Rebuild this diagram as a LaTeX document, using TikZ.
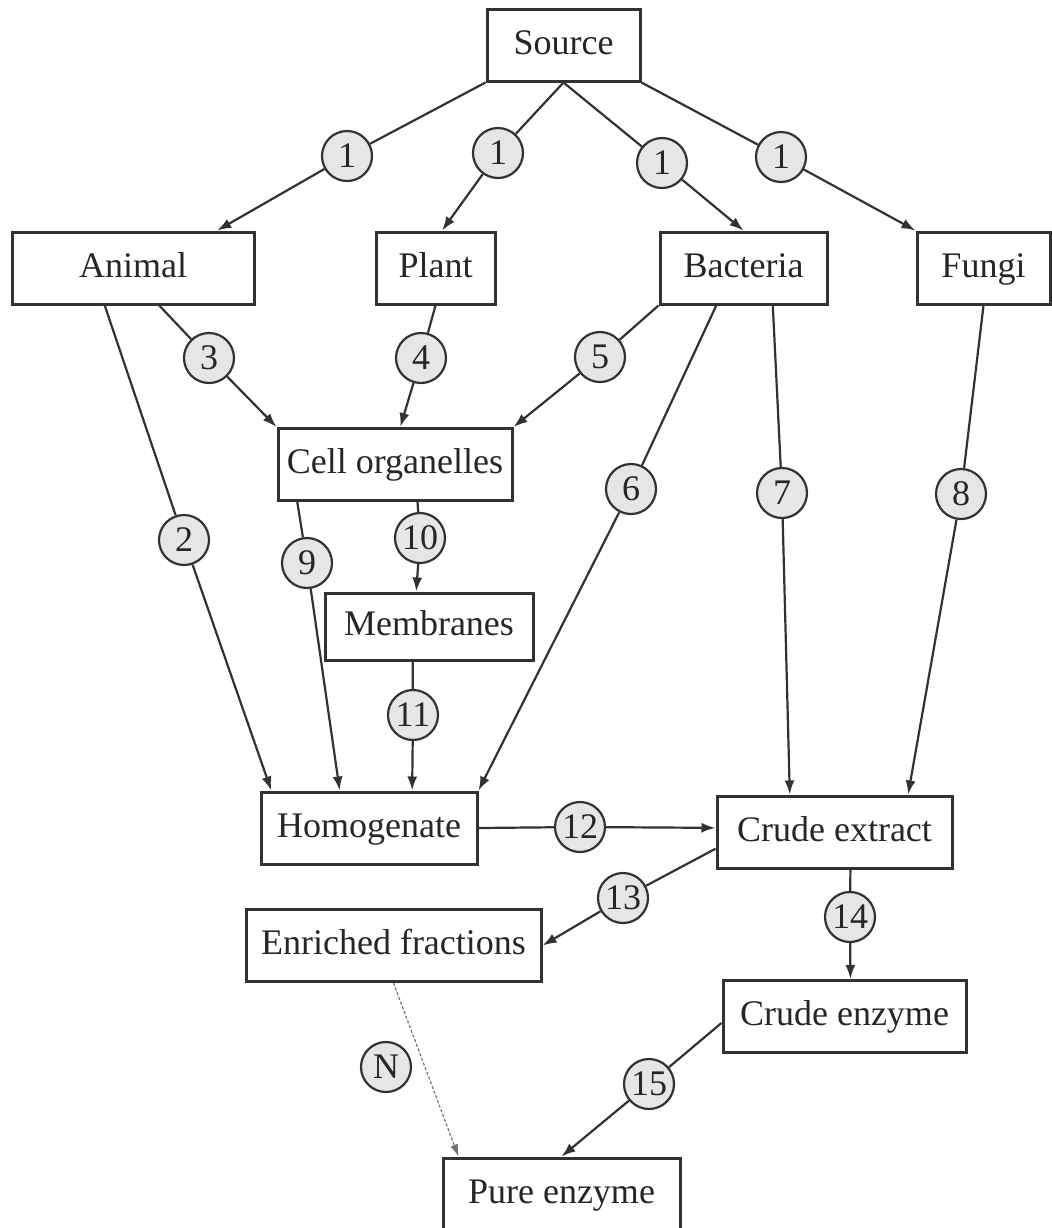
\documentclass[tikz,border=0pt]{standalone}
\usepackage{fontspec}
\setmainfont{Liberation Serif}
\usepackage{tikz}
\usetikzlibrary{arrows,arrows.meta,positioning}

\begin{document}
\begin{tikzpicture}
	\definecolor{boxLineColour}{RGB}{50, 50, 50}
	\definecolor{stepFillColour}{RGB}{230, 230, 230}
	\tikzstyle{stage}=[rectangle, draw=boxLineColour, line width=1.5pt, minimum height=36pt, inner sep=0pt, text height=12.5pt, text depth=3.5pt, text=black!85, font=\fontsize{18}{22}\selectfont]
	\tikzstyle{num}=[circle, draw=boxLineColour, fill=stepFillColour, line width=1.1pt, minimum size=25pt, inner sep=0pt, text=black!85, font=\fontsize{18}{22}\selectfont]
	\tikzstyle{link}=[line width=1.1pt, color=boxLineColour]

	\useasboundingbox (0pt,0pt) rectangle (526pt,-614pt);

	% boxes
	\node [stage, minimum width=76.5pt, xshift=281.75pt, yshift=-22.5pt] (source) {Source};
	\node [stage, minimum width=121pt, xshift=66.5pt, yshift=-134pt] (animal) {Animal};
	\node [stage, minimum width=59.5pt, xshift=217.75pt, yshift=-134pt] (plant) {Plant};
	\node [stage, minimum width=83.5pt, xshift=371.75pt, yshift=-134pt] (bacteria) {Bacteria};
	\node [stage, minimum width=66.5pt, xshift=491.75pt, yshift=-134pt] (fungi) {Fungi};
	\node [stage, minimum width=117pt, xshift=197.5pt, yshift=-232.25pt] (cellorg) {Cell organelles};
	\node [stage, minimum width=104pt, minimum height=33.5pt, xshift=214.5pt, yshift=-313.25pt] (membranes) {Membranes};
	\node [stage, minimum width=108pt, xshift=184.5pt, yshift=-414pt] (homogenate) {Homogenate};
	\node [stage, minimum width=117.5pt, xshift=417.25pt, yshift=-416pt] (crudeext) {Crude extract};
	\node [stage, minimum width=147.5pt, xshift=196.75pt, yshift=-472.75pt] (enriched) {Enriched fractions};
	\node [stage, minimum width=121.5pt, xshift=422.25pt, yshift=-508.25pt] (crudeenz) {Crude enzyme};
	\node [stage, minimum width=118.5pt, xshift=280.75pt, yshift=-597pt] (pure) {Pure enzyme};

	% step numbers
	\node [num, xshift=173.5pt, yshift=-78pt] (s1a) {1};
	\node [num, xshift=249pt, yshift=-76.5pt] (s1b) {1};
	\node [num, xshift=331pt, yshift=-81.5pt] (s1c) {1};
	\node [num, xshift=390.5pt, yshift=-78.5pt] (s1d) {1};
	\node [num, xshift=92pt, yshift=-270pt] (s2) {2};
	\node [num, xshift=104.5pt, yshift=-179pt] (s3) {3};
	\node [num, xshift=210.5pt, yshift=-179pt] (s4) {4};
	\node [num, xshift=300pt, yshift=-178.5pt] (s5) {5};
	\node [num, xshift=315.5pt, yshift=-244.5pt] (s6) {6};
	\node [num, xshift=391pt, yshift=-246.5pt] (s7) {7};
	\node [num, xshift=480.5pt, yshift=-247pt] (s8) {8};
	\node [num, xshift=153.5pt, yshift=-281.5pt] (s9) {9};
	\node [num, xshift=210pt, yshift=-269pt] (s10) {10};
	\node [num, xshift=206.5pt, yshift=-357.5pt] (s11) {11};
	\node [num, xshift=290pt, yshift=-413.5pt] (s12) {12};
	\node [num, xshift=311.5pt, yshift=-449pt] (s13) {13};
	\node [num, xshift=425pt, yshift=-458.5pt] (s14) {14};
	\node [num, xshift=324.5pt, yshift=-542pt] (s15) {15};
	\node [num, xshift=193pt, yshift=-533.5pt] (sN) {N};

	\path[link, -]
	(source.south west) edge (s1a)
	(source.south) edge (s1b)
	(source.south) edge (s1c)
	(source.south east) edge (s1d)
	(animal.233) edge (s2)
	(animal.305) edge (s3)
	(plant.south) edge (s4)
	(bacteria.south west) edge (s5)
	(bacteria.234) edge (s6)
	(bacteria.308) edge (s7)
	(fungi.south) edge (s8)
	(cellorg.201) edge (s9)
	(cellorg.301) edge (s10)
	(membranes.245) edge (s11)
	(homogenate.east) edge (s12)
	(crudeext.188) edge (s13)
	(crudeext.293) edge (s14)
	(crudeenz.183) edge (s15);

	\path[link, -{Latex[length=7pt, width=5pt]}]
	(s1a) edge (animal.24)
	(s1b) edge (plant.80)
	(s1c) edge (bacteria.north)
	(s1d) edge (fungi.north west)
	(s2) edge (homogenate.159)
	(s3) edge (cellorg.north west)
	(s4) edge (cellorg.82)
	(s5) edge (cellorg.north east)
	(s6) edge (homogenate.north east)
	(s7) edge (crudeext.140)
	(s8) edge (crudeext.27)
	(s9) edge (homogenate.128)
	(s10) edge (membranes.110)
	(s11) edge (homogenate.41)
	(s12) edge (crudeext.178)
	(s13) edge (enriched.east)
	(s14) edge (crudeenz.81)
	(s15) edge (pure.north);

	\path[-{Latex[length=6pt, width=4pt]}, line width=0.6pt, dash pattern=on 1.5pt off 1pt, color=black!55]
	(enriched.south) edge (pure.160);
\end{tikzpicture}
\end{document}
